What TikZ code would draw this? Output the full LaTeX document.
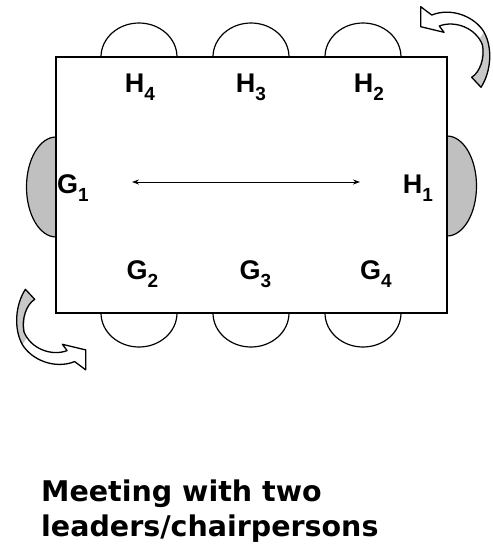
\documentclass[tikz,border=0pt]{standalone}
\usepackage{fontspec}
\setmainfont{Liberation Sans}
\newfontfamily\headfont{DejaVu Sans}
\usetikzlibrary{shapes.geometric,arrows.meta}

\definecolor{seatgray}{RGB}{192,192,192}
\definecolor{foldgray}{RGB}{200,200,200}

% letter with a lowered seat number
\newcommand{\seatname}[2]{#1\raisebox{-8pt}{\fontsize{19}{19}\selectfont #2}}

% curved turn arrow, drawn at the top right corner
\newcommand{\turnarrow}{%
	\fill[foldgray] (471.7,77.3) -- (481,87.3) .. controls (491,72) and (493,48) .. (484,32)
		-- (480,38) .. controls (485,55) and (480,72) .. (471.7,77.3) -- cycle;
	\draw[line width=1.3pt, line join=round] (431.7,15) -- (420.7,6.7) -- (420.7,26.7)
		-- (444,32.3) -- (439.3,26) .. controls (455,20) and (476,28) .. (482.5,45)
		.. controls (485,58) and (480,72) .. (471.7,77.3) -- (481,87.3)
		.. controls (491,72) and (493,48) .. (484,32)
		.. controls (475,17) and (452,7) .. (431.7,15) -- cycle;
}

\begin{document}
\begin{tikzpicture}[
		x=1pt, y=-1pt,
		seat/.style={ellipse, draw, line width=1.2pt, fill=white, inner sep=0pt,
			minimum width=76pt, minimum height=68pt},
		headseat/.style={seat, fill=seatgray, minimum width=59pt, minimum height=100pt},
		tablebox/.style={rectangle, draw, line width=1.8pt, fill=white, inner sep=0pt,
			minimum width=391pt, minimum height=256pt},
		who/.style={font=\bfseries\fontsize{27}{27}\selectfont, anchor=base, inner sep=0pt},
		heading/.style={font=\headfont\bfseries\fontsize{28.5}{28.5}\selectfont,
			anchor=base west, inner sep=0pt}
		]
		\useasboundingbox (0,0) rectangle (493,552);

		% chairs first, the table hides their inner halves
		\foreach \x/\n in {139/4,251/3,363/2} {
			\node[seat] (hseat\n) at (\x,57) {};
		}
		\foreach \x/\n in {139/2,251/3,363/4} {
			\node[seat] (gseat\n) at (\x,313) {};
		}
		\node[headseat] (gseat1) at (56,187) {};
		\node[headseat] (hseat1) at (447,186) {};

		\node[tablebox] (table) at (251.5,185) {};

		% people round the table
		\node[who] (H4) at (140,92.5) {\seatname{H}{4}};
		\node[who] (H3) at (251,92.5) {\seatname{H}{3}};
		\node[who] (H2) at (369,92.5) {\seatname{H}{2}};
		\node[who] (G1) at (73,193) {\seatname{G}{1}};
		\node[who] (H1) at (418,193) {\seatname{H}{1}};
		\node[who] (G2) at (142.5,279) {\seatname{G}{2}};
		\node[who] (G3) at (255.5,279) {\seatname{G}{3}};
		\node[who] (G4) at (376,279) {\seatname{G}{4}};

		% the two leaders face each other
		\coordinate (talkL) at (132,182);
		\coordinate (talkR) at (360,182);
		\draw[line width=0.9pt, {Stealth[length=7pt,width=5pt]}-{Stealth[length=7pt,width=5pt]}]
			(talkL) -- (talkR);

		% turn arrows at two corners
		\turnarrow
		\begin{scope}[rotate around={180:(253.2,188.3)}]
			\turnarrow
		\end{scope}

		\node[heading] (title1) at (41,501.7) {Meeting with two};
		\node[heading] (title2) at (41,536.7) {leaders/chairpersons};
	\end{tikzpicture}
\end{document}
